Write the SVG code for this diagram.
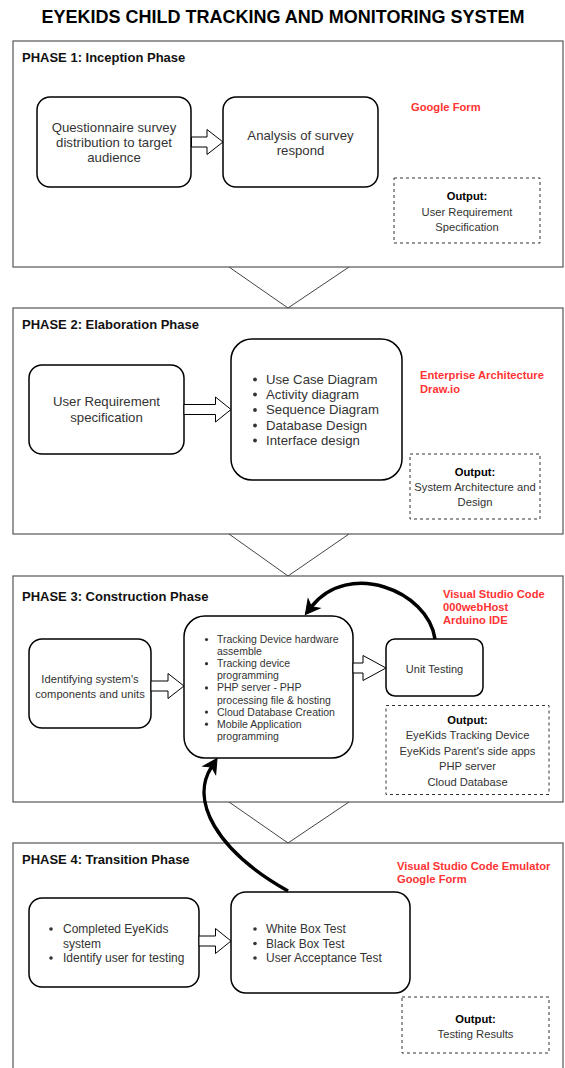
<svg xmlns="http://www.w3.org/2000/svg" width="565" height="1068" viewBox="0 0 565 1068">
<style>
.phase{fill:#fff;stroke:#555;stroke-width:1.2}
.node{fill:#fff;stroke:#000;stroke-width:1.5}
.out{fill:#fff;stroke:#333;stroke-width:1;stroke-dasharray:3 3}
text{font-family:"Liberation Sans",Arial,Helvetica,sans-serif}
.title{font-size:18px;font-weight:bold;fill:#000}
.ph{font-size:13px;font-weight:bold;fill:#111}
.t13{font-size:13.2px;fill:#333}
.t12{font-size:12px;fill:#333}
.t11{font-size:11.2px;fill:#333}
.t10{font-size:10.5px;fill:#333}
.ob{font-size:11.2px;font-weight:bold;fill:#000}
.red{font-size:11.2px;font-weight:bold;fill:#ff3333}
.c{text-anchor:middle}
.bul{fill:#333}
.blk{fill:#fff;stroke:#000;stroke-width:1}
.tri{fill:none;stroke:#444;stroke-width:1}
.curve{fill:none;stroke:#000;stroke-width:3.5}
</style>
<defs>
<marker id="ah" markerUnits="userSpaceOnUse" viewBox="-6 -9 18 18" refX="0" refY="0" markerWidth="18" markerHeight="18" orient="auto" overflow="visible">
<path d="M10,0 L-4,-7.5 L0,0 L-4,7.5 Z" fill="#000" stroke="#000" stroke-width="1" stroke-linejoin="miter"/>
</marker>
</defs>
<rect width="565" height="1068" fill="#fff"/>
<text class="title c" x="283" y="23">EYEKIDS CHILD TRACKING AND MONITORING SYSTEM</text>

<g id="phase1">
<rect class="phase" x="13" y="41" width="550" height="226"/>
<text class="ph" x="22" y="62">PHASE 1: Inception Phase</text>
</g>
<g id="phase2">
<rect class="phase" x="13" y="308" width="550" height="226"/>
<text class="ph" x="22" y="329">PHASE 2: Elaboration Phase</text>
</g>
<g id="phase3">
<rect class="phase" x="13" y="576" width="550" height="226"/>
<text class="ph" x="22" y="601">PHASE 3: Construction Phase</text>
</g>
<g id="phase4">
<rect class="phase" x="13" y="843" width="550" height="240"/>
<text class="ph" x="22" y="864">PHASE 4: Transition Phase</text>
</g>

<g id="p1-questionnaire">
<rect class="node" x="37" y="97" width="154" height="90" rx="13"/>
<text class="t13 c" x="114" y="132">Questionnaire survey</text>
<text class="t13 c" x="114" y="147">distribution to target</text>
<text class="t13 c" x="114" y="161.5">audience</text>
</g>
<g id="p1-analysis">
<rect class="node" x="223" y="97" width="155" height="90" rx="13"/>
<text class="t13 c" x="300.5" y="139.5">Analysis of survey</text>
<text class="t13 c" x="300.5" y="154.5">respond</text>
</g>
<g id="p1-tools">
<text class="red" x="411" y="110.5">Google Form</text>
</g>
<g id="p1-output">
<rect class="out" x="394" y="178" width="146" height="65"/>
<text class="ob c" x="467" y="200">Output:</text>
<text class="t11 c" x="467" y="215.5">User Requirement</text>
<text class="t11 c" x="467" y="231">Specification</text>
</g>

<g id="p2-urs">
<rect class="node" x="29" y="365" width="155" height="89" rx="13"/>
<text class="t13 c" x="106.5" y="406">User Requirement</text>
<text class="t13 c" x="106.5" y="422">specification</text>
</g>
<g id="p2-design">
<rect class="node" x="231" y="339" width="171" height="141" rx="21"/>
<circle class="bul" cx="255" cy="379.5" r="1.9"/>
<circle class="bul" cx="255" cy="394.5" r="1.9"/>
<circle class="bul" cx="255" cy="410" r="1.9"/>
<circle class="bul" cx="255" cy="425.5" r="1.9"/>
<circle class="bul" cx="255" cy="440.5" r="1.9"/>
<text class="t13" x="266" y="383.5">Use Case Diagram</text>
<text class="t13" x="266" y="398.5">Activity diagram</text>
<text class="t13" x="266" y="414">Sequence Diagram</text>
<text class="t13" x="266" y="429.5">Database Design</text>
<text class="t13" x="266" y="444.5">Interface design</text>
</g>
<g id="p2-tools">
<text class="red" x="420" y="379">Enterprise Architecture</text>
<text class="red" x="420" y="392.5">Draw.io</text>
</g>
<g id="p2-output">
<rect class="out" x="410" y="454" width="130" height="65"/>
<text class="ob c" x="475" y="475.5">Output:</text>
<text class="t11 c" x="475" y="490.5">System Architecture and</text>
<text class="t11 c" x="475" y="506">Design</text>
</g>

<g id="p3-identify">
<rect class="node" x="29" y="639" width="122" height="89" rx="13"/>
<text class="t11 c" x="90" y="682.5">Identifying system's</text>
<text class="t11 c" x="90" y="697.5">components and units</text>
</g>
<g id="p3-build">
<rect class="node" x="184" y="616" width="169" height="142" rx="21"/>
<circle class="bul" cx="206.5" cy="639.5" r="1.6"/>
<circle class="bul" cx="206.5" cy="663.7" r="1.6"/>
<circle class="bul" cx="206.5" cy="687.9" r="1.6"/>
<circle class="bul" cx="206.5" cy="712.1" r="1.6"/>
<circle class="bul" cx="206.5" cy="724.2" r="1.6"/>
<text class="t10" x="217" y="643">Tracking Device hardware</text>
<text class="t10" x="217" y="655.1">assemble</text>
<text class="t10" x="217" y="667.2">Tracking device</text>
<text class="t10" x="217" y="679.3">programming</text>
<text class="t10" x="217" y="691.4">PHP server - PHP</text>
<text class="t10" x="217" y="703.5">processing file &amp; hosting</text>
<text class="t10" x="217" y="715.6">Cloud Database Creation</text>
<text class="t10" x="217" y="727.7">Mobile Application</text>
<text class="t10" x="217" y="739.8">programming</text>
</g>
<g id="p3-unit">
<rect class="node" x="386" y="639" width="97" height="57" rx="9"/>
<text class="c" x="434.5" y="672.5" style="font-size:11px;fill:#333">Unit Testing</text>
</g>
<g id="p3-tools">
<text class="red" x="443" y="597.5">Visual Studio Code</text>
<text class="red" x="443" y="610.5">000webHost</text>
<text class="red" x="443" y="623.5">Arduino IDE</text>
</g>
<g id="p3-output">
<rect class="out" x="386" y="705.5" width="163" height="89"/>
<text class="ob c" x="467.5" y="723.5">Output:</text>
<text class="t11 c" x="467.5" y="739">EyeKids Tracking Device</text>
<text class="t11 c" x="467.5" y="754.5">EyeKids Parent's side apps</text>
<text class="t11 c" x="467.5" y="770">PHP server</text>
<text class="t11 c" x="467.5" y="785.5">Cloud Database</text>
</g>

<g id="p4-input">
<rect class="node" x="29" y="898" width="170" height="89" rx="13"/>
<circle class="bul" cx="51" cy="929" r="1.8"/>
<circle class="bul" cx="51" cy="958" r="1.8"/>
<text class="t12" x="63" y="933">Completed EyeKids</text>
<text class="t12" x="63" y="947.5">system</text>
<text class="t12" x="63" y="962">Identify user for testing</text>
</g>
<g id="p4-tests">
<rect class="node" x="231" y="892" width="179" height="101" rx="15"/>
<circle class="bul" cx="255" cy="929" r="1.8"/>
<circle class="bul" cx="255" cy="943.5" r="1.8"/>
<circle class="bul" cx="255" cy="958" r="1.8"/>
<text class="t12" x="266" y="933">White Box Test</text>
<text class="t12" x="266" y="947.5">Black Box Test</text>
<text class="t12" x="266" y="962">User Acceptance Test</text>
</g>
<g id="p4-tools">
<text class="red" x="397" y="870">Visual Studio Code Emulator</text>
<text class="red" x="397" y="882.5">Google Form</text>
</g>
<g id="p4-output">
<rect class="out" x="402" y="997" width="147" height="56"/>
<text class="ob c" x="475.5" y="1023">Output:</text>
<text class="t11 c" x="475.5" y="1037.5">Testing Results</text>
</g>

<g id="connectors">
<polyline class="tri" points="229,267 288,308 349,267"/>
<polyline class="tri" points="229,534 288,576 349,534"/>
<polyline class="tri" points="229,802 288,843 349,802"/>
<path class="blk" d="M191.5,137 L207,137 L207,129.5 L223,142 L207,154.5 L207,147 L191.5,147 Z"/>
<path class="blk" d="M184,404.5 L215.5,404.5 L215.5,397 L231,409.5 L215.5,422 L215.5,414.5 L184,414.5 Z"/>
<path class="blk" d="M151,681 L168,681 L168,673.5 L184,686 L168,698.5 L168,691 L151,691 Z"/>
<path class="blk" d="M353,663 L363,663 L363,655.5 L386,668 L363,680.5 L363,673 L353,673 Z"/>
<path class="blk" d="M199,936 L215.5,936 L215.5,928.5 L231,941 L215.5,953.5 L215.5,946 L199,946 Z"/>
<path class="curve" d="M435,639 C428,590 348,560 311.5,606.7" marker-end="url(#ah)"/>
<path class="curve" d="M288,891 C215,850 190,800 211.6,766.9" marker-end="url(#ah)"/>
</g>
</svg>
